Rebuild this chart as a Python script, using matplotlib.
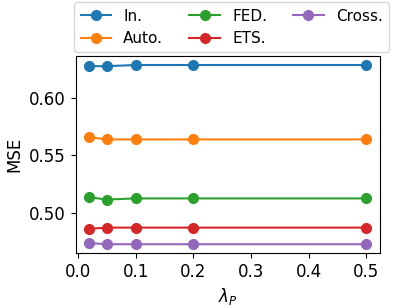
import matplotlib.pyplot as plt

plt.rcParams['font.size'] = 12

lambdas = [0.02, 0.05, 0.1, 0.2, 0.5]
labels = ["In.", "Auto.", "FED.", "ETS.", "Cross."]
mse_in = [0.628, 0.628, 0.629, 0.629, 0.629]
mse_auto = [0.566, 0.564, 0.564, 0.564, 0.564]
mse_fed = [0.5135, 0.5115, 0.5125, 0.5125, 0.5125]
mse_ets = [0.486, 0.487, 0.487, 0.487, 0.487]
mse_cross = [0.4735, 0.4725, 0.4725, 0.4725, 0.4725]

fig, ax = plt.subplots(figsize=(3.98, 3.08), dpi=100)
for vals, lab in zip([mse_in, mse_auto, mse_fed, mse_ets, mse_cross], labels):
    ax.plot(lambdas, vals, marker='o', markersize=7, label=lab)

ax.set_xlabel(r'$\lambda_P$')
ax.set_ylabel('MSE')
ax.set_xticks([0.0, 0.1, 0.2, 0.3, 0.4, 0.5])
ax.set_yticks([0.50, 0.55, 0.60])
ax.legend(ncol=3, loc='lower center', bbox_to_anchor=(0.582, 0.83),
          bbox_transform=fig.transFigure, borderaxespad=0, fontsize=11,
          columnspacing=1.7)

fig.subplots_adjust(left=0.19, right=0.955, top=0.818, bottom=0.178)
fig.savefig('out.png')
